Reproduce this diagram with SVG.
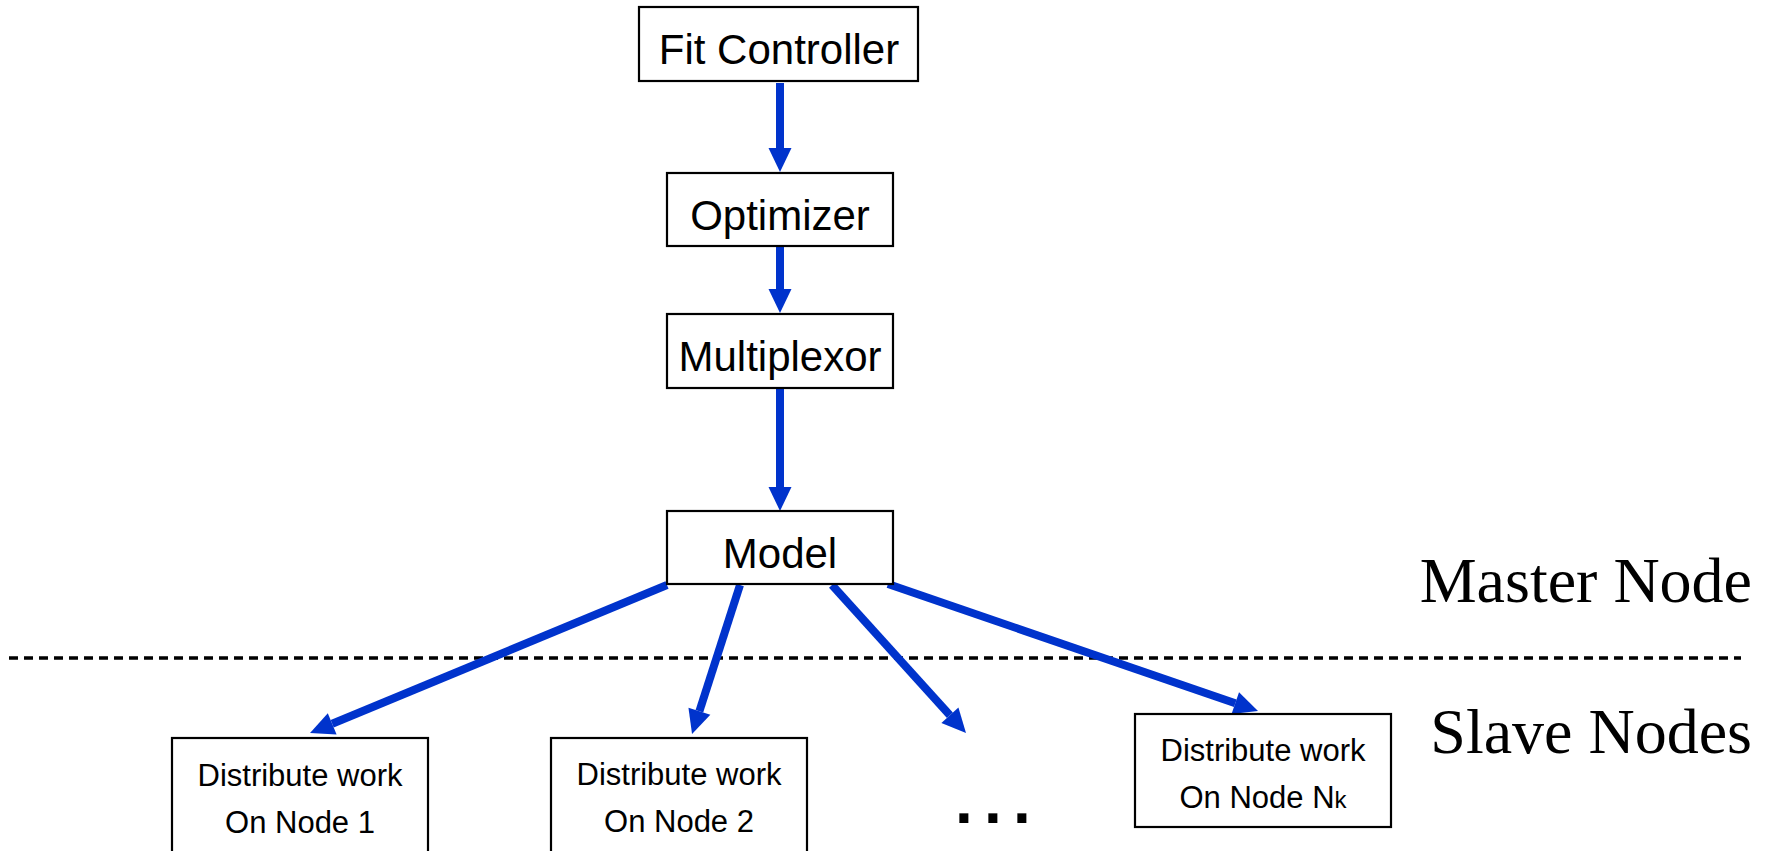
<svg xmlns="http://www.w3.org/2000/svg" width="1775" height="851" viewBox="0 0 1775 851">
<style>
.box{fill:#fff;stroke:#000;stroke-width:2.2}
.t{font-family:"Liberation Sans",Arial,sans-serif;fill:#000;text-anchor:middle}
.big{font-size:42px}
.small{font-size:31px}
.serif{font-family:"Liberation Serif","Times New Roman",serif;font-size:64px;fill:#000;text-anchor:end}
.conn{stroke:#0033cc;stroke-width:8;fill:none;marker-end:url(#ah)}
</style>
<defs>
<marker id="ah" markerUnits="userSpaceOnUse" markerWidth="26" markerHeight="26" refX="0" refY="12" orient="auto" overflow="visible">
<path d="M0,0.5 L24,12 L0,23.5 Z" fill="#0033cc"/>
</marker>
</defs>
<rect width="1775" height="851" fill="#fff"/>
<g id="divider">
<line x1="9" y1="658" x2="1741" y2="658" stroke="#000" stroke-width="3.5" stroke-dasharray="9 6"/>
</g>
<g id="connectors">
<line class="conn" x1="780" y1="83" x2="780" y2="148"/>
<line class="conn" x1="780" y1="247" x2="780" y2="289"/>
<line class="conn" x1="780" y1="388" x2="780" y2="487"/>
<line class="conn" x1="667" y1="585" x2="332.2" y2="723.8"/>
<line class="conn" x1="740" y1="585" x2="699.4" y2="711.2"/>
<line class="conn" x1="832" y1="585" x2="949.9" y2="715.2"/>
<line class="conn" x1="888" y1="584" x2="1235.3" y2="703.2"/>
</g>
<g id="fit-controller">
<rect class="box" x="639" y="7" width="279" height="74"/>
<text class="t big" x="779" y="64">Fit Controller</text>
</g>
<g id="optimizer">
<rect class="box" x="667" y="173" width="226" height="73"/>
<text class="t big" x="780" y="230">Optimizer</text>
</g>
<g id="multiplexor">
<rect class="box" x="667" y="314" width="226" height="74"/>
<text class="t big" x="780" y="371">Multiplexor</text>
</g>
<g id="model">
<rect class="box" x="667" y="511" width="226" height="73"/>
<text class="t big" x="780" y="568">Model</text>
</g>
<g id="node1">
<rect class="box" x="172" y="738" width="256" height="120"/>
<text class="t small" x="300" y="786">Distribute work</text>
<text class="t small" x="300" y="833">On Node 1</text>
</g>
<g id="node2">
<rect class="box" x="551" y="738" width="256" height="120"/>
<text class="t small" x="679" y="785">Distribute work</text>
<text class="t small" x="679" y="832">On Node 2</text>
</g>
<g id="ellipsis">
<text x="955" y="823" font-family="Liberation Sans,Arial,sans-serif" font-weight="bold" font-size="64" letter-spacing="11.2" fill="#000">...</text>
</g>
<g id="nodeNk">
<rect class="box" x="1135" y="714" width="256" height="113"/>
<text class="t small" x="1263" y="761">Distribute work</text>
<text class="t small" x="1263" y="808">On Node N<tspan font-size="24">k</tspan></text>
</g>
<g id="labels">
<text class="serif" x="1752" y="602">Master Node</text>
<text class="serif" x="1752" y="753">Slave Nodes</text>
</g>
</svg>
